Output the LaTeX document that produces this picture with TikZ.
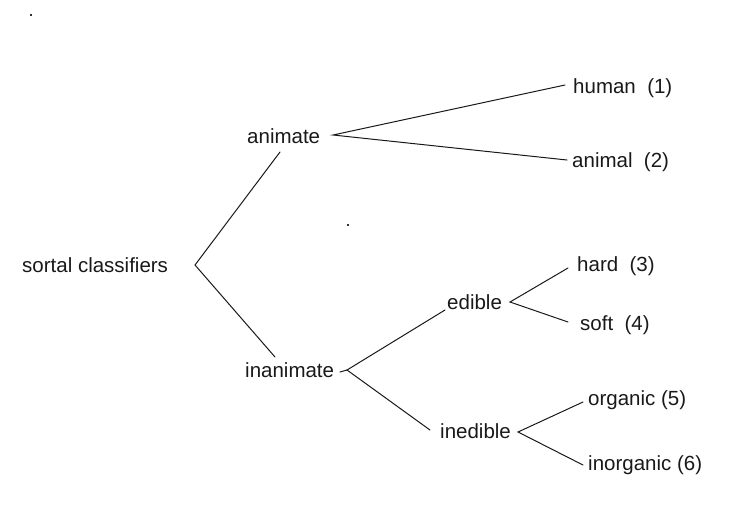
\documentclass[tikz,border=0pt]{standalone}
\usepackage{fontspec}
\setmainfont{Liberation Sans}
\begin{document}
\begin{tikzpicture}[x=1pt, y=-1pt,
  lbl/.style={anchor=base west, inner sep=0pt, font=\fontsize{20.5}{24}\selectfont, text=black!90},
  branch/.style={draw=black!90, line width=1pt, line cap=round},
  speck/.style={fill=black!80}]
\useasboundingbox (0,0) rectangle (738,520);

% labels
\node[lbl] (sortal)    at (22,272)  {sortal classifiers};
\node[lbl] (animate)   at (247,143) {animate};
\node[lbl] (inanimate) at (245,377) {inanimate};
\node[lbl] (human)     at (573,93)  {human\ \ (1)};
\node[lbl] (animal)    at (572,167) {animal\ \ (2)};
\node[lbl] (edible)    at (447,309) {edible};
\node[lbl] (inedible)  at (440,438) {inedible};
\node[lbl] (hard)      at (577,271) {hard\ \ (3)};
\node[lbl] (soft)      at (580,330) {soft\ \ (4)};
\node[lbl] (organic)   at (588,405) {organic (5)};
\node[lbl] (inorganic) at (588,470) {inorganic (6)};

% branching points just right of each parent
\coordinate (sortal-fork)    at (195,265);
\coordinate (animate-fork)   at (333,135);
\coordinate (inanimate-fork) at (347,370);
\coordinate (edible-fork)    at (510,302);
\coordinate (inedible-fork)  at (518,432);

% attachment points next to each child
\coordinate (animate-in)   at (280,152);
\coordinate (inanimate-in) at (275,357);
\coordinate (human-in)     at (565,85);
\coordinate (animal-in)    at (567,160);
\coordinate (edible-in)    at (445,310);
\coordinate (inedible-in)  at (430,430);
\coordinate (hard-in)      at (568,268);
\coordinate (soft-in)      at (568,322);
\coordinate (organic-in)   at (583,402);
\coordinate (inorganic-in) at (583,465);
\coordinate (inanimate-tick) at (340,372);

% tree branches
\draw[branch] (animate-in) -- (sortal-fork) -- (inanimate-in);
\draw[branch] (human-in) -- (animate-fork) -- (animal-in);
\draw[branch] (edible-in) -- (inanimate-fork) -- (inedible-in);
\draw[branch] (inanimate-tick) -- (inanimate-fork);
\draw[branch] (hard-in) -- (edible-fork) -- (soft-in);
\draw[branch] (organic-in) -- (inedible-fork) -- (inorganic-in);

% two stray specks
\fill[speck] (30,14) rectangle (32,16);
\fill[speck] (347,224) rectangle (349,226);
\end{tikzpicture}
\end{document}
